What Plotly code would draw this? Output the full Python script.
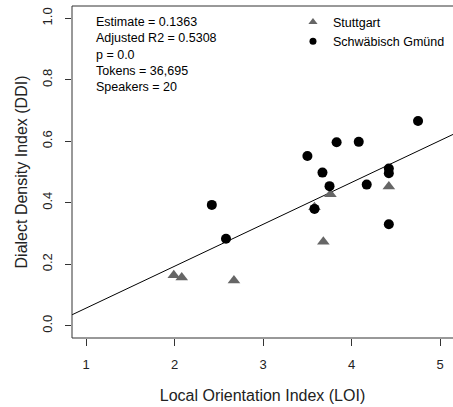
import plotly.graph_objects as go

# Data
stuttgart_loi = [1.99, 2.08, 2.67, 3.58, 3.68, 3.76, 4.42]
stuttgart_ddi = [0.164, 0.157, 0.147, 0.385, 0.273, 0.428, 0.453]

gmuend_loi = [2.42, 2.58, 3.50, 3.67, 3.83, 4.08, 3.75, 3.58, 4.17, 4.42, 4.42, 4.42, 4.75]
gmuend_ddi = [0.393, 0.283, 0.552, 0.498, 0.597, 0.598, 0.454, 0.380, 0.459, 0.511, 0.496, 0.330, 0.666]

slope = 0.1363
intercept = -0.079
x_limits = [0.84, 5.16]
y_limits = [-0.04, 1.04]

x_ticks = [1, 2, 3, 4, 5]
y_ticks = [0.0, 0.2, 0.4, 0.6, 0.8, 1.0]
y_tick_labels = ["0.0", "0.2", "0.4", "0.6", "0.8", "1.0"]

stats_lines = [
    "Estimate = 0.1363",
    "Adjusted R2 = 0.5308",
    "p = 0.0",
    "Tokens = 36,695",
    "Speakers = 20",
]

FONT = "Liberation Sans, Arial, Helvetica, sans-serif"
GRAY = "#666666"

fig = go.Figure()

fig.add_trace(go.Scatter(
    x=x_limits, y=[intercept + slope * v for v in x_limits],
    mode="lines", line=dict(color="black", width=1), showlegend=False,
    hoverinfo="skip"))

fig.add_trace(go.Scatter(
    x=stuttgart_loi, y=stuttgart_ddi, mode="markers",
    marker=dict(symbol="triangle-up", size=11, color=GRAY),
    showlegend=False))

fig.add_trace(go.Scatter(
    x=gmuend_loi, y=gmuend_ddi, mode="markers",
    marker=dict(symbol="circle", size=10, color="black"),
    showlegend=False))

# legend entries
fig.add_trace(go.Scatter(
    x=[None], y=[None], mode="markers", name="Stuttgart",
    marker=dict(symbol="triangle-up", size=8, color=GRAY)))
fig.add_trace(go.Scatter(
    x=[None], y=[None], mode="markers", name="Schwäbisch Gmünd",
    marker=dict(symbol="circle", size=7, color="black")))

fig.add_annotation(
    text="<br>".join(stats_lines), xref="paper", yref="paper",
    x=(94 - 72) / 381, y=(332 - 7) / 332, xanchor="left", yanchor="top",
    align="left", showarrow=False, font=dict(size=12.5, color="black", family=FONT))

fig.add_shape(type="rect", xref="paper", yref="paper", x0=0, x1=1.02, y0=0, y1=1,
              line=dict(color="#333333", width=1), layer="above")

fig.update_layout(
    width=453, height=407,
    margin=dict(l=72, r=0, t=6, b=69),
    paper_bgcolor="white", plot_bgcolor="white",
    font=dict(family=FONT, size=13, color="#222222"),
    legend=dict(x=0.58, y=0.996, xanchor="left", yanchor="top",
                bgcolor="rgba(0,0,0,0)", font=dict(size=12.5, color="black"),
                tracegroupgap=0, itemwidth=30),
    xaxis=dict(range=[0.84, 0.84 + 381 / 88.5], tickvals=x_ticks,
               showgrid=False, zeroline=False, showline=False,
               ticks="outside", ticklen=7, tickcolor="#333333",
               ticklabelstandoff=7, automargin=False,
               title=dict(text="Local Orientation Index (LOI)", standoff=19)),
    yaxis=dict(range=y_limits, tickvals=y_ticks, ticktext=y_tick_labels,
               tickangle=-90, showgrid=False, zeroline=False, showline=False,
               ticks="outside", ticklen=6, tickcolor="#333333",
               ticklabelstandoff=8, automargin=False,
               title=dict(text="Dialect Density Index (DDI)", standoff=8)),
)

fig.write_html("out.html", config={"displayModeBar": False},
               post_script="document.body.style.margin='0';document.body.style.overflow='hidden';")
